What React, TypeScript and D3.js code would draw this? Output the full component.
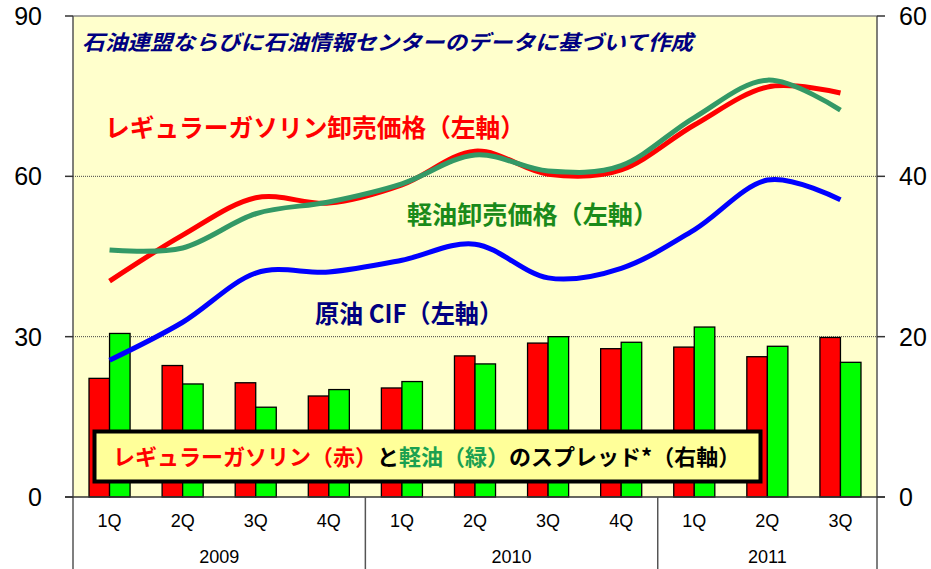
import React from 'react';
import * as d3 from 'd3';

const quarters = ['1Q', '2Q', '3Q', '4Q', '1Q', '2Q', '3Q', '4Q', '1Q', '2Q', '3Q'];
const years = [
  { label: '2009', n: 4 },
  { label: '2010', n: 4 },
  { label: '2011', n: 3 },
];
// left axis (price)
const gasolinePrice = [40.4, 49.0, 56.0, 55.0, 58.4, 64.7, 60.4, 61.2, 69.6, 76.7, 75.6];
const dieselPrice = [46.2, 46.6, 53.0, 55.2, 58.6, 64.0, 61.0, 62.0, 71.0, 78.0, 72.4];
const crudeCif = [25.6, 32.7, 41.9, 42.1, 44.3, 47.3, 41.0, 42.8, 50.0, 59.3, 55.6];
// right axis (spread)
const gasolineSpread = [14.8, 16.4, 14.25, 12.6, 13.6, 17.6, 19.2, 18.5, 18.7, 17.5, 19.9];
const dieselSpread = [20.4, 14.1, 11.2, 13.4, 14.4, 16.6, 20.0, 19.3, 21.2, 18.8, 16.8];

const leftTicks = [0, 30, 60, 90];
const rightTicks = [0, 20, 40, 60];

const W = 931;
const H = 569;
const m = { left: 73, right: 877, top: 16, bottom: 497 };

const jp = '"Noto Sans CJK JP", "Noto Sans", sans-serif';
const num = '"Liberation Sans", Arial, sans-serif';

const App = () => {
  const idx = quarters.map((_, i) => String(i));
  const x = d3.scaleBand<string>().domain(idx).range([m.left, m.right]).padding(0);
  const sub = d3
    .scaleBand<string>()
    .domain(['gas', 'diesel'])
    .range([0, x.bandwidth()])
    .paddingInner(0)
    .paddingOuter(0.78);
  const yL = d3.scaleLinear().domain([0, 90]).range([m.bottom, m.top]);
  const yR = d3.scaleLinear().domain([0, 60]).range([m.bottom, m.top]);
  const cx = (i: number) => (x(String(i)) as number) + x.bandwidth() / 2;

  const line = d3
    .line<number>()
    .x((_, i) => cx(i))
    .y((d) => yL(d))
    .curve(d3.curveCatmullRom.alpha(0));

  const bars: { key: string; vals: number[]; color: string }[] = [
    { key: 'gas', vals: gasolineSpread, color: '#FF0000' },
    { key: 'diesel', vals: dieselSpread, color: '#00FF00' },
  ];

  let acc = 0;
  const yearBounds = years.map((yr) => {
    const start = acc;
    acc += yr.n;
    return { ...yr, start, end: acc };
  });

  return (
    <svg width={W} height={H} style={{ position: 'absolute', left: 0, top: 0, background: '#fff' }}>
      <rect x={m.left} y={m.top} width={m.right - m.left} height={m.bottom - m.top} fill="#FFFFCC" />

      {/* grid */}
      {leftTicks.filter((t) => t > 0 && t < 90).map((t) => (
        <line key={t} x1={m.left} x2={m.right} y1={yL(t)} y2={yL(t)} stroke="#444" strokeWidth={1} strokeDasharray="1,1" />
      ))}
      <line x1={m.left} x2={m.right} y1={m.top} y2={m.top} stroke="#888" strokeWidth={1.5} />

      {/* bars */}
      {bars.map((b) =>
        b.vals.map((v, i) => (
          <rect
            key={b.key + i}
            x={(x(String(i)) as number) + (sub(b.key) as number)}
            y={yR(v)}
            width={sub.bandwidth()}
            height={m.bottom - yR(v)}
            fill={b.color}
            stroke="#000"
            strokeWidth={1.3}
          />
        ))
      )}

      {/* lines */}
      <path d={line(crudeCif) || ''} fill="none" stroke="#0000FF" strokeWidth={5} />
      <path d={line(gasolinePrice) || ''} fill="none" stroke="#FF0000" strokeWidth={5} />
      <path d={line(dieselPrice) || ''} fill="none" stroke="#339966" strokeWidth={5} />

      {/* axes */}
      <line x1={m.left} x2={m.left} y1={m.top} y2={H} stroke="#555" strokeWidth={1.5} />
      <line x1={m.right} x2={m.right} y1={m.top} y2={H} stroke="#555" strokeWidth={1.5} />
      <line x1={m.left - 8} x2={m.right + 8} y1={m.bottom} y2={m.bottom} stroke="#333" strokeWidth={1.5} />
      {leftTicks.map((t) => (
        <g key={'l' + t}>
          <line x1={m.left - 8} x2={m.left} y1={yL(t)} y2={yL(t)} stroke="#333" strokeWidth={1.5} />
          <text x={42} y={yL(t)} dy="0.36em" textAnchor="end" fontFamily={num} fontSize={25} fill="#000">
            {t}
          </text>
        </g>
      ))}
      {rightTicks.map((t) => (
        <g key={'r' + t}>
          <line x1={m.right} x2={m.right + 8} y1={yR(t)} y2={yR(t)} stroke="#333" strokeWidth={1.5} />
          <text x={899} y={yR(t)} dy="0.36em" textAnchor="start" fontFamily={num} fontSize={25} fill="#000">
            {t}
          </text>
        </g>
      ))}

      {/* category axis */}
      {quarters.map((q, i) => (
        <text key={'q' + i} x={cx(i)} y={521} dy="0.36em" textAnchor="middle" fontFamily={num} fontSize={18} fill="#000">
          {q}
        </text>
      ))}
      {yearBounds.map((yr) => {
        const x0 = x(String(yr.start)) as number;
        const x1 = yr.end < quarters.length ? (x(String(yr.end)) as number) : m.right;
        return (
          <g key={yr.label}>
            {yr.start > 0 && <line x1={x0} x2={x0} y1={m.bottom} y2={H} stroke="#555" strokeWidth={1.5} />}
            <text x={(x0 + x1) / 2} y={557} dy="0.36em" textAnchor="middle" fontFamily={num} fontSize={18} fill="#000">
              {yr.label}
            </text>
          </g>
        );
      })}

      {/* annotations */}
      <text x={82} y={42} dy="0.36em" fontFamily={jp} fontSize={21} fontWeight="bold" fontStyle="italic" fill="#000080" textLength={611} lengthAdjust="spacingAndGlyphs">
        石油連盟ならびに石油情報センターのデータに基づいて作成
      </text>
      <text x={105} y={128} dy="0.36em" fontFamily={jp} fontSize={25} fontWeight="bold" fill="#FF0000" textLength={420} lengthAdjust="spacingAndGlyphs">
        レギュラーガソリン卸売価格（左軸）
      </text>
      <text x={407} y={215} dy="0.36em" fontFamily={jp} fontSize={25} fontWeight="bold" fill="#1A8A1A" textLength={251} lengthAdjust="spacingAndGlyphs">
        軽油卸売価格（左軸）
      </text>
      <text x={315} y={314} dy="0.36em" fontFamily={jp} fontSize={25} fontWeight="bold" fill="#000080" textLength={188} lengthAdjust="spacingAndGlyphs">
        原油 CIF（左軸）
      </text>

      {/* legend box */}
      <rect x={94.5} y={431.5} width={666} height={50} fill="#FFFF99" stroke="#000" strokeWidth={4} />
      <text x={113} y={457} dy="0.36em" fontFamily={jp} fontSize={22} fontWeight="bold">
        <tspan fill="#FF0000">レギュラーガソリン（赤）</tspan>
        <tspan fill="#000">と</tspan>
        <tspan fill="#1AA050">軽油（緑）</tspan>
        <tspan fill="#000">のスプレッド*（右軸）</tspan>
      </text>
    </svg>
  );
};

export default App;
